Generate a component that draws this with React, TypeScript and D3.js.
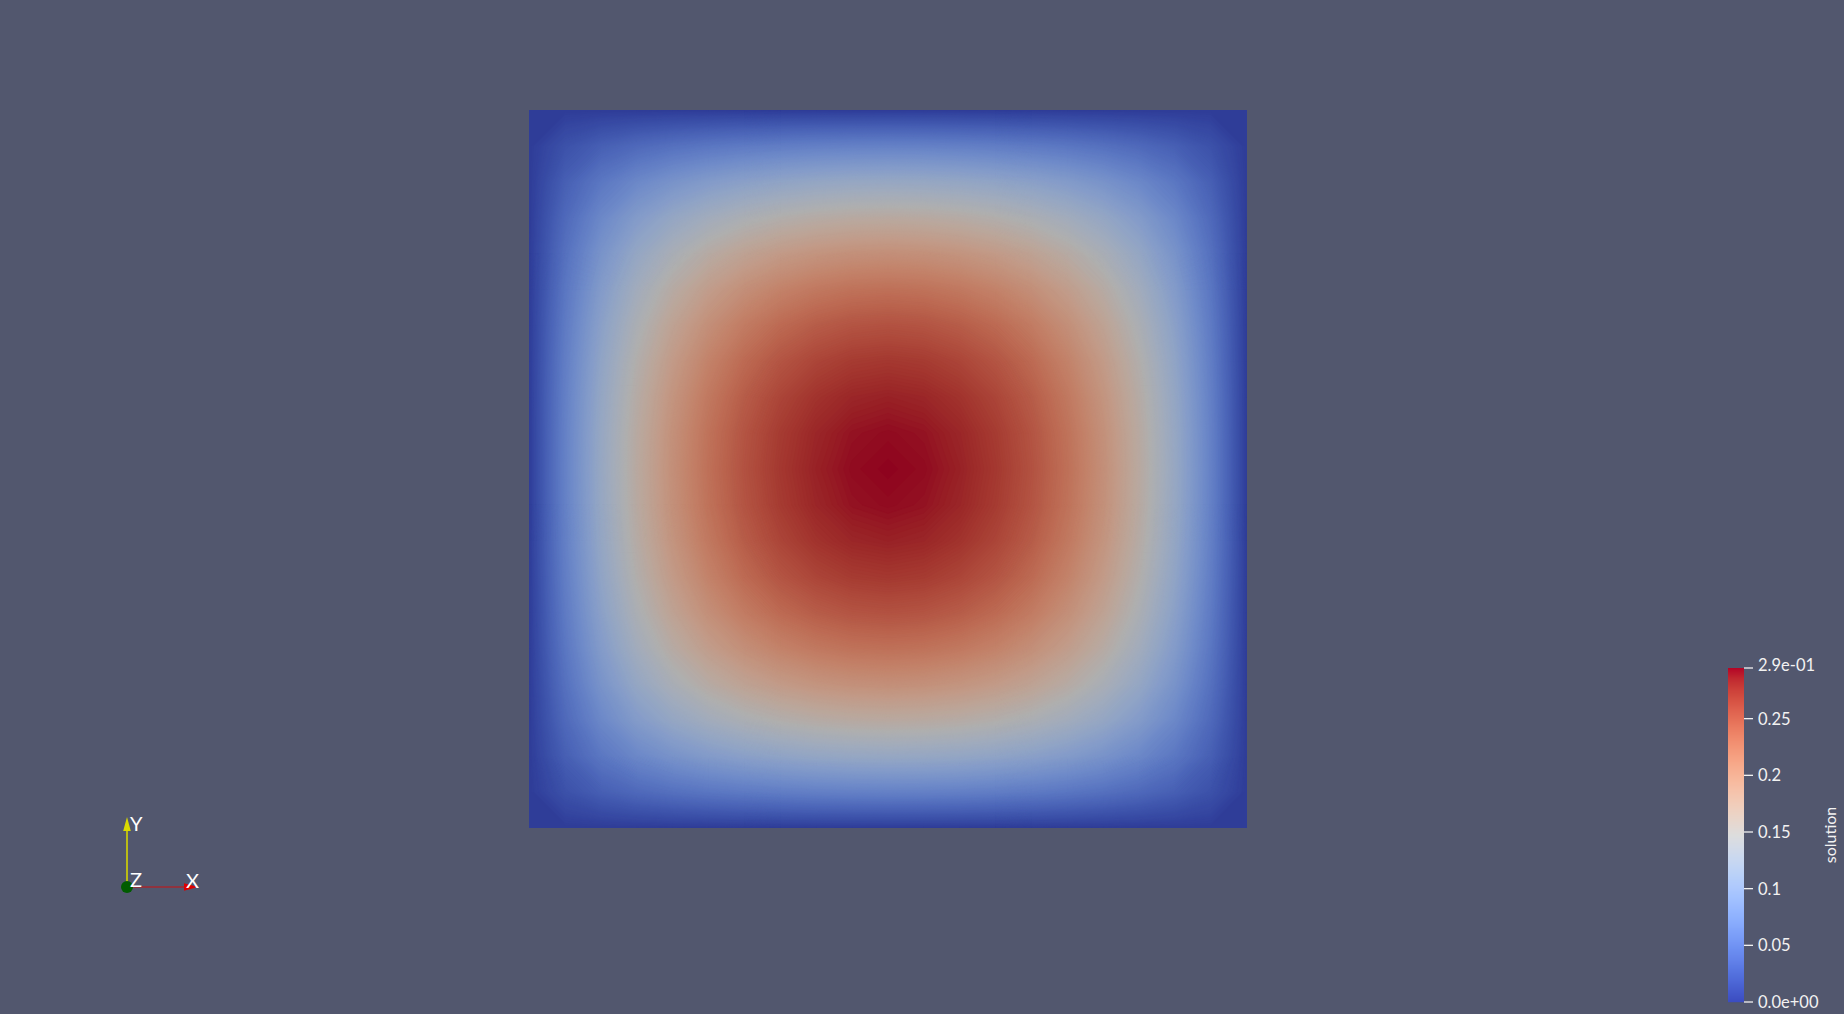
import { useEffect, useRef } from 'react';
import * as d3 from 'd3';

// "solution" field sampled on a 0.1 grid, one quarter of the [-1,1]x[-1,1] square
// (row = |y| from 0 to 1, column = |x| from 0 to 1); the field is symmetric about both axes
const quarterSolution = [
  [0.2947, 0.2922, 0.2846, 0.2718, 0.2535, 0.2293, 0.1988, 0.1613, 0.1162, 0.0627, 0],
  [0.2922, 0.2897, 0.2822, 0.2696, 0.2515, 0.2275, 0.1973, 0.1601, 0.1154, 0.0623, 0],
  [0.2846, 0.2822, 0.2750, 0.2627, 0.2452, 0.2220, 0.1926, 0.1565, 0.1129, 0.0610, 0],
  [0.2718, 0.2696, 0.2627, 0.2512, 0.2346, 0.2126, 0.1847, 0.1503, 0.1086, 0.0588, 0],
  [0.2535, 0.2515, 0.2452, 0.2346, 0.2194, 0.1991, 0.1734, 0.1414, 0.1025, 0.0557, 0],
  [0.2293, 0.2275, 0.2220, 0.2126, 0.1991, 0.1812, 0.1582, 0.1295, 0.0943, 0.0515, 0],
  [0.1988, 0.1973, 0.1926, 0.1847, 0.1734, 0.1582, 0.1386, 0.1140, 0.0835, 0.0460, 0],
  [0.1613, 0.1601, 0.1565, 0.1503, 0.1414, 0.1295, 0.1140, 0.0945, 0.0698, 0.0389, 0],
  [0.1162, 0.1154, 0.1129, 0.1086, 0.1025, 0.0943, 0.0835, 0.0698, 0.0524, 0.0298, 0],
  [0.0627, 0.0623, 0.0610, 0.0588, 0.0557, 0.0515, 0.0460, 0.0389, 0.0298, 0.0176, 0],
  [0, 0, 0, 0, 0, 0, 0, 0, 0, 0, 0],
];

const fieldName = 'solution';
const rangeMin = 0;
const rangeMax = 0.2947;
const legendTicks = [0.05, 0.1, 0.15, 0.2, 0.25];

// ParaView "Cool to Warm"
const coolWarm = [
  '#3b4cc0', '#445acc', '#4d68d7', '#5775e1', '#6282ea', '#6c8ef1', '#779af7', '#82a5fb',
  '#8db0fe', '#98b9ff', '#a3c2ff', '#aec9fd', '#b8d0f9', '#c2d5f4', '#ccd9ee', '#d5dbe6',
  '#dddddd', '#e5d8d1', '#ecd3c5', '#f1ccb9', '#f5c4ad', '#f7bba0', '#f7b194', '#f7a687',
  '#f49a7b', '#f18d6f', '#ec7f63', '#e57058', '#de604d', '#d55042', '#cb3e38', '#c0282f',
  '#b40426',
];

const axisLabels = ['X', 'Y', 'Z'];

const W = 1844;
const H = 1014;
const BG = '#52576e';
const FONT = 'Lato, "Open Sans", sans-serif';
const LIGHT = 0.79;

const expFormat = (v: number) => d3.format('.1e')(v).replace(/e([+-])(\d)$/, 'e$10$2');

export default function App() {
  const svgRef = useRef<SVGSVGElement>(null);

  useEffect(() => {
    if (!svgRef.current) return;
    const svg = d3.select(svgRef.current);
    svg.selectAll('*').remove();

    const color = d3
      .scaleLinear<string>()
      .domain(coolWarm.map((_, i) => rangeMin + (i / (coolWarm.length - 1)) * (rangeMax - rangeMin)))
      .range(coolWarm)
      .interpolate(d3.interpolateRgb)
      .clamp(true);
    const lit = (v: number) => {
      const c = d3.rgb(color(v));
      return d3.rgb(c.r * LIGHT, c.g * LIGHT, c.b * LIGHT).formatHex();
    };

    svg.append('rect').attr('width', W).attr('height', H).attr('fill', BG);

    // full grid from the quarter
    const half = quarterSolution.length - 1;
    const n = half * 2 + 1;
    const values: number[] = [];
    for (let r = 0; r < n; r++) {
      for (let c = 0; c < n; c++) values.push(quarterSolution[Math.abs(r - half)][Math.abs(c - half)]);
    }

    const box = { x0: 529, x1: 1247, y0: 110, y1: 828 };
    const sx = d3.scaleLinear().domain([0.5, n - 0.5]).range([box.x0, box.x1]);
    const sy = d3.scaleLinear().domain([0.5, n - 0.5]).range([box.y0, box.y1]);
    const path = d3.geoPath(
      d3.geoTransform({
        point(x: number, y: number) {
          this.stream.point(sx(x), sy(y));
        },
      })
    );

    const step = 0.0012;
    const thresholds = d3.range(rangeMin + step, rangeMax, step);
    const bands = d3.contours().size([n, n]).thresholds(thresholds)(values);

    svg
      .append('clipPath')
      .attr('id', 'sq')
      .append('rect')
      .attr('x', box.x0)
      .attr('y', box.y0)
      .attr('width', box.x1 - box.x0)
      .attr('height', box.y1 - box.y0);

    const field = svg.append('g').attr('clip-path', 'url(#sq)');
    field
      .append('rect')
      .attr('x', box.x0)
      .attr('y', box.y0)
      .attr('width', box.x1 - box.x0)
      .attr('height', box.y1 - box.y0)
      .attr('fill', lit(rangeMin + step / 2));
    field
      .selectAll('path')
      .data(bands)
      .join('path')
      .attr('d', (d) => path(d as any))
      .attr('fill', (d) => lit(d.value + step / 2))
      .attr('stroke', (d) => lit(d.value + step / 2))
      .attr('stroke-width', 0.6);

    // colour legend
    const lx = 1728;
    const lw = 16;
    const ly = d3.scaleLinear().domain([rangeMin, rangeMax]).range([1002, 668]);
    const legend = svg.append('g');
    const px = d3.range(Math.round(ly(rangeMax)), Math.round(ly(rangeMin)));
    legend
      .selectAll('rect')
      .data(px)
      .join('rect')
      .attr('x', lx)
      .attr('y', (d) => d)
      .attr('width', lw)
      .attr('height', 1.2)
      .attr('fill', (d) => color(ly.invert(d + 0.5)));

    const ticks = [rangeMin, ...legendTicks, rangeMax];
    legend
      .selectAll('line')
      .data(ticks)
      .join('line')
      .attr('x1', lx + lw)
      .attr('x2', lx + lw + 9)
      .attr('y1', (d) => ly(d))
      .attr('y2', (d) => ly(d))
      .attr('stroke', '#f2f2f2')
      .attr('stroke-width', 1.3);
    legend
      .selectAll('text.tick')
      .data(ticks)
      .join('text')
      .attr('class', 'tick')
      .attr('x', lx + lw + 14)
      .attr('y', (d) => (d === rangeMax ? ly(d) - 3 : ly(d)))
      .attr('dy', '0.36em')
      .attr('fill', '#f2f2f2')
      .attr('font-family', FONT)
      .attr('font-size', 16.5)
      .text((d) => (d === rangeMin || d === rangeMax ? expFormat(d) : String(d)));
    legend
      .append('text')
      .attr('transform', `translate(1836, ${(ly(rangeMin) + ly(rangeMax)) / 2}) rotate(-90)`)
      .attr('text-anchor', 'middle')
      .attr('fill', '#f2f2f2')
      .attr('font-family', FONT)
      .attr('font-size', 16)
      .text(fieldName);

    // orientation axes
    const ox = 127;
    const oy = 887;
    const axes = svg.append('g');
    axes.append('line').attr('x1', ox).attr('y1', oy).attr('x2', ox).attr('y2', 830)
      .attr('stroke', '#d6d600').attr('stroke-width', 1.6);
    axes.append('polygon').attr('points', `${ox},817 ${ox - 3.8},831 ${ox + 3.8},831`).attr('fill', '#dada00');
    axes.append('line').attr('x1', ox).attr('y1', oy).attr('x2', 184).attr('y2', oy)
      .attr('stroke', '#cc1010').attr('stroke-width', 1.2);
    axes.append('polygon').attr('points', `198,${oy} 184,${oy - 3.8} 184,${oy + 3.8}`).attr('fill', '#dd0000');
    axes.append('circle').attr('cx', ox).attr('cy', oy).attr('r', 6).attr('fill', '#005c00');
    const labelPos = [
      { x: 186, y: 888 },
      { x: 130, y: 831 },
      { x: 130, y: 887 },
    ];
    axes
      .selectAll('text')
      .data(axisLabels)
      .join('text')
      .attr('x', (_, i) => labelPos[i].x)
      .attr('y', (_, i) => labelPos[i].y)
      .attr('fill', '#ffffff')
      .attr('font-family', FONT)
      .attr('font-size', 20)
      .text((d) => d);
  }, []);

  return (
    <svg
      ref={svgRef}
      width={W}
      height={H}
      viewBox={`0 0 ${W} ${H}`}
      style={{ position: 'fixed', left: 0, top: 0, display: 'block' }}
    />
  );
}
